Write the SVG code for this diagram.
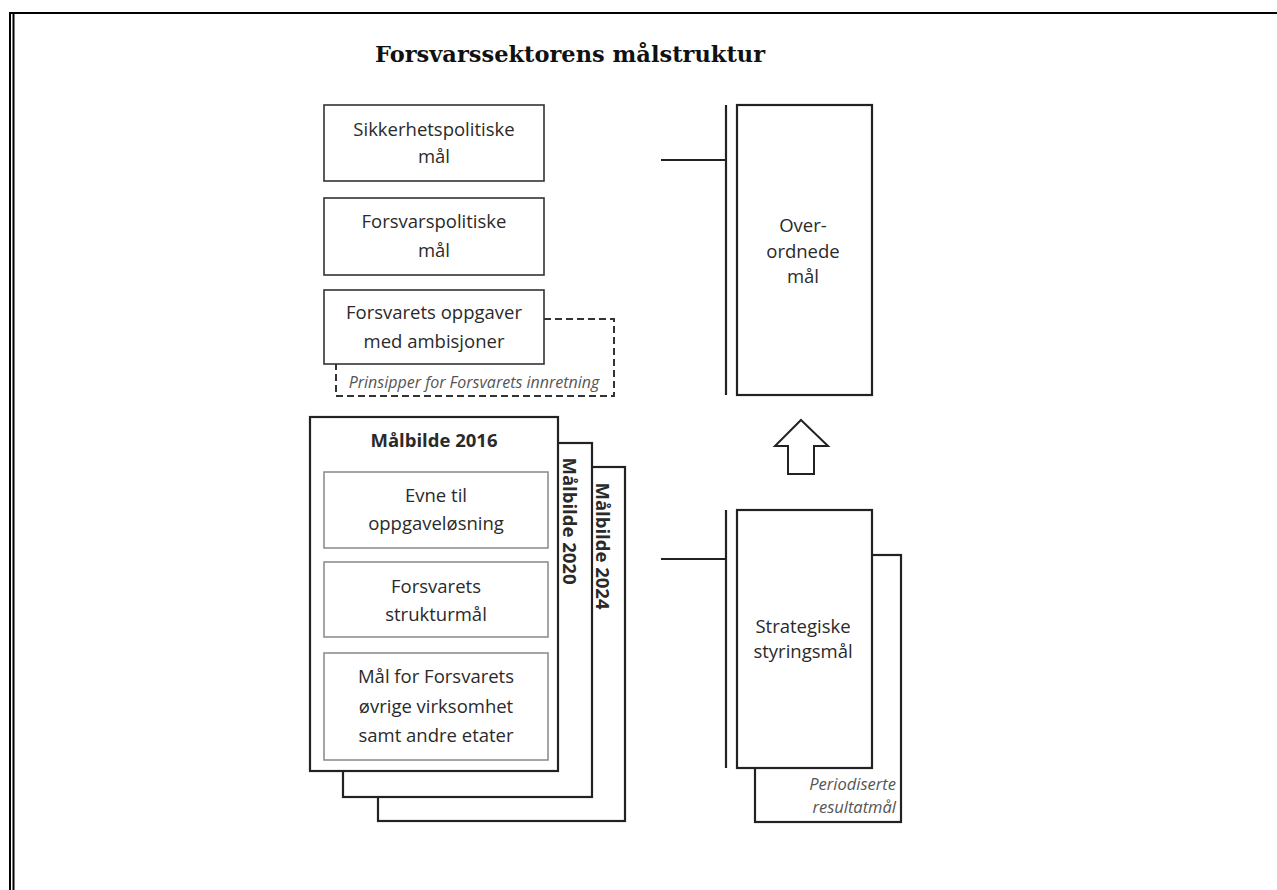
<svg xmlns="http://www.w3.org/2000/svg" width="1277" height="890" viewBox="0 0 1277 890">
<style>
.t{font-family:"Open Sans","Noto Sans",sans-serif;font-size:18.5px;fill:#2a2a2a;text-anchor:middle}
.b{font-weight:bold}
.i{font-style:italic;font-size:16px;fill:#555}
.box{fill:#fff;stroke:#333;stroke-width:1.6}
.inner{fill:#fff;stroke:#888;stroke-width:1.5}
.heavy{fill:#fff;stroke:#222;stroke-width:2.2}
.ln{fill:none;stroke:#222;stroke-width:2.2}
.frame{fill:none;stroke:#000;stroke-width:2}
</style>
<rect width="1277" height="890" fill="#fff"/>
<g id="frame">
<line class="frame" x1="10" y1="12" x2="10" y2="890"/>
<line class="frame" x1="13.5" y1="13" x2="13.5" y2="890"/>
<line class="frame" x1="9" y1="13" x2="1277" y2="13"/>
</g>
<text x="570" y="62" font-family="'DejaVu Serif',serif" font-weight="bold" font-size="23" text-anchor="middle" textLength="390" lengthAdjust="spacingAndGlyphs" fill="#111">Forsvarssektorens målstruktur</text>

<g id="sikkerhetspolitiske">
<rect class="box" x="324" y="105" width="220" height="76"/>
<text class="t" x="434" y="136">Sikkerhetspolitiske</text>
<text class="t" x="434" y="163">mål</text>
</g>
<g id="forsvarspolitiske">
<rect class="box" x="324" y="198" width="220" height="77"/>
<text class="t" x="434" y="228">Forsvarspolitiske</text>
<text class="t" x="434" y="257">mål</text>
</g>
<g id="prinsipper">
<path d="M544 319 H614 V396 H336 V364" fill="none" stroke="#333" stroke-width="2" stroke-dasharray="7,4"/>
<text class="t i" x="474" y="388">Prinsipper for Forsvarets innretning</text>
</g>
<g id="oppgaver">
<rect class="box" x="324" y="290" width="220" height="74"/>
<text class="t" x="434" y="319">Forsvarets oppgaver</text>
<text class="t" x="434" y="348">med ambisjoner</text>
</g>

<g id="malbilde2024">
<rect class="heavy" x="378" y="467" width="247" height="354"/>
<text class="t b" font-size="17" transform="translate(596,546) rotate(90)">Målbilde 2024</text>
</g>
<g id="malbilde2020">
<rect class="heavy" x="343" y="443" width="249" height="354"/>
<text class="t b" font-size="17" transform="translate(563,521) rotate(90)">Målbilde 2020</text>
</g>
<g id="malbilde2016">
<rect class="heavy" x="310" y="417" width="248" height="354"/>
<text class="t b" font-size="17" x="434" y="447">Målbilde 2016</text>
</g>
<g id="evne">
<rect class="inner" x="324" y="472" width="224" height="76"/>
<text class="t" x="436" y="502">Evne til</text>
<text class="t" x="436" y="530">oppgaveløsning</text>
</g>
<g id="strukturmal">
<rect class="inner" x="324" y="562" width="224" height="75"/>
<text class="t" x="436" y="593">Forsvarets</text>
<text class="t" x="436" y="621">strukturmål</text>
</g>
<g id="ovrige">
<rect class="inner" x="324" y="653" width="224" height="107"/>
<text class="t" x="436" y="683">Mål for Forsvarets</text>
<text class="t" x="436" y="713">øvrige virksomhet</text>
<text class="t" x="436" y="742">samt andre etater</text>
</g>

<g id="overordnede">
<rect class="heavy" x="737" y="105" width="135" height="290"/>
<text class="t" x="803" y="232">Over-</text>
<text class="t" x="803" y="258">ordnede</text>
<text class="t" x="803" y="283">mål</text>
</g>
<g id="periodiserte">
<rect class="heavy" x="755" y="555" width="146" height="267"/>
<text class="t i" x="896" y="790" style="text-anchor:end;font-size:16.5px">Periodiserte</text>
<text class="t i" x="896" y="813" style="text-anchor:end;font-size:16.5px">resultatmål</text>
</g>
<g id="strategiske">
<rect class="heavy" x="737" y="510" width="135" height="258"/>
<text class="t" x="803" y="633">Strategiske</text>
<text class="t" x="803" y="658">styringsmål</text>
</g>

<g id="connectors">
<line class="ln" x1="726" y1="105" x2="726" y2="395"/>
<line class="ln" x1="661" y1="160" x2="726" y2="160"/>
<line class="ln" x1="726" y1="510" x2="726" y2="768"/>
<line class="ln" x1="661" y1="559" x2="726" y2="559"/>
<path d="M801 420 L828 446 H814 V474 H788 V446 H775 Z" fill="#fff" stroke="#222" stroke-width="2" stroke-linejoin="miter"/>
</g>
</svg>
